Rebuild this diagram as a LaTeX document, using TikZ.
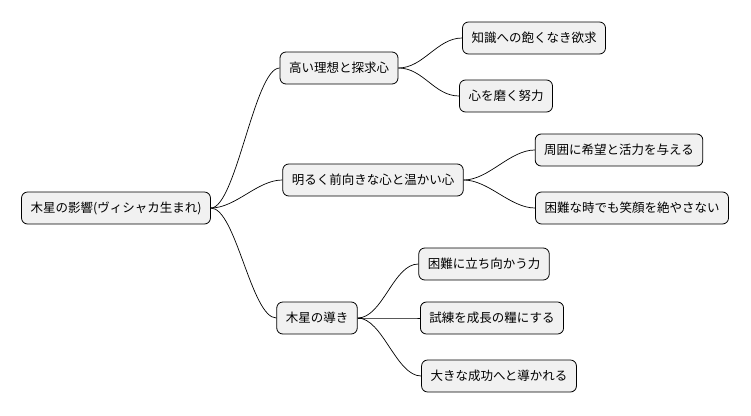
\documentclass[tikz,border=0pt]{standalone}
\usepackage{fontspec}
\setmainfont{Noto Sans CJK JP}
\definecolor{boxgray}{HTML}{F1F1F1}
\tikzset{
  idea/.style={draw=black, fill=boxgray, rounded corners=6pt, line width=0.8pt,
    minimum height=32pt, inner xsep=9pt, font=\fontsize{12.5}{14}\selectfont},
  link/.style={line width=0.7pt}
}
\begin{document}
\begin{tikzpicture}[x=1pt,y=-1pt]
        \useasboundingbox (0,0) rectangle (751,415);
        % root and branches
        \node[idea] (root) at (116,208) {木星の影響(ヴィシャカ生まれ)};
        \node[idea] (ideal) at (339,68) {高い理想と探求心};
        \node[idea] (bright) at (373,180) {明るく前向きな心と温かい心};
        \node[idea] (guide) at (317,318) {木星の導き};
        % leaves
        \node[idea] (know) at (534,38) {知識への飽くなき欲求};
        \node[idea] (polish) at (506,96) {心を磨く努力};
        \node[idea] (hope) at (619,150) {周囲に希望と活力を与える};
        \node[idea] (smile) at (632,208) {困難な時でも笑顔を絶やさない};
        \node[idea] (face) at (484,264) {困難に立ち向かう力};
        \node[idea] (trial) at (492,318) {試練を成長の糧にする};
        \node[idea] (success) at (499,376) {大きな成功へと導かれる};
        % connectors
        \foreach \a/\b in {root/ideal, root/bright, root/guide,
            ideal/know, ideal/polish, bright/hope, bright/smile,
            guide/face, guide/trial, guide/success}
          \draw[link] (\a.east) .. controls +(25,0) and +(-25,0) .. (\b.west);
\end{tikzpicture}
\end{document}
